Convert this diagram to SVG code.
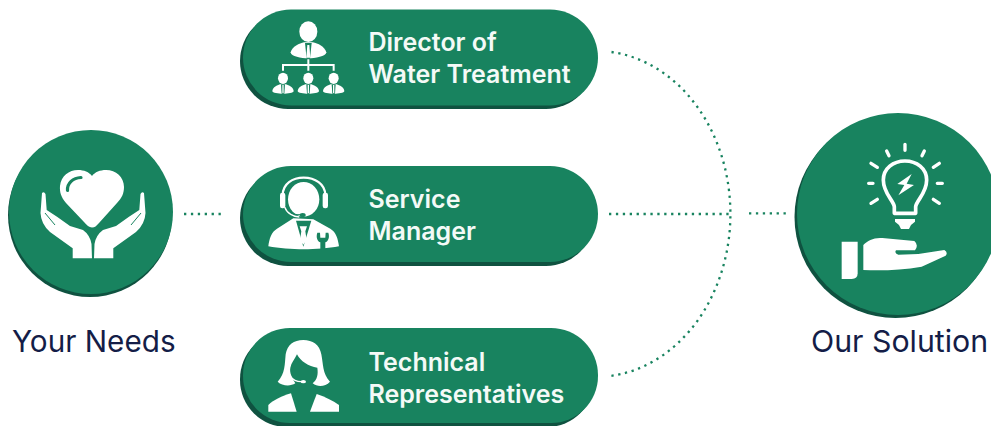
<svg xmlns="http://www.w3.org/2000/svg" width="991" height="426" viewBox="0 0 991 426">
<style>
.g{fill:#18835f}.d{fill:#0f5240}.w{fill:#fff}
.gs{fill:none;stroke:#18835f}
.ws{fill:none;stroke:#fff;stroke-linecap:round}
.dot{fill:none;stroke:#18835f;stroke-width:2.3;stroke-dasharray:2.3 4.6}
.p{font-family:Inter,"Liberation Sans",sans-serif;font-weight:600;font-size:25px;fill:#f4faf7}
.t{font-family:Inter,"Liberation Sans",sans-serif;font-weight:400;font-size:30.300px;fill:#141d47}
</style>
<defs>
<g id="person">
<ellipse cx="0" cy="0" rx="15" ry="17" class="w"/>
<path class="w" d="M-32,38C-30,26 -18,21 -9,18L9,18C18,21 30,26 32,38C32,44 14,46 0,46C-14,46 -32,44 -32,38Z"/>
<path class="g" d="M-6,18L6,18L4,46L-4,46Z"/>
<path class="w" d="M-2,20L2,20L2,44L-2,44Z"/>
</g>
<g id="hand">
<path class="w" d="M42,193Q44,191 45.500,194L46.700,210L57,216.700L70,226L83,230Q90,235 91.500,244L92,258.300L72.700,258.300L72.700,248.300L50,232Q41,224 40.500,213Z"/>
<path class="gs" stroke-width="1" d="M45,213L55,225"/>
</g>
</defs>
<g id="connectors">
<path class="dot" d="M184,214H222"/>
<path class="dot" d="M609,214H730"/>
<path class="dot" d="M749,213.300H788"/>
<path class="dot" d="M611.500,52A134.500,163 0 0 1 610,376"/>
</g>
<g id="your-needs">
<circle cx="90" cy="215" r="82" class="d"/>
<circle cx="91" cy="212" r="82" class="g"/>
<path class="w" d="M92,227.500C89,227.500 87,225 84,222L66,203C61,197 59.500,192 60,186C61,176 69,170 78,170C84,170 89,172 92,176C95,172 100,170 106,170C116,170 124,177 124,187C124,193 122,198 117,203L99,223C96,226 95,227.500 92,227.500Z"/>
<path class="gs" stroke-width="3.200" stroke-linecap="round" d="M67.500,190.500C67,183 73,178 81,177.500"/>
<use href="#hand"/>
<use href="#hand" transform="translate(186 0) scale(-1 1)"/>
<text class="t" x="12" y="352" style="font-size:29.700px">Your Needs</text>
</g>
<g id="director">
<rect x="240" y="13" width="354" height="96" rx="48" class="d"/>
<rect x="243" y="9.500" width="355" height="96" rx="48" class="g"/>
<g transform="translate(268 15) scale(.3333)">
<ellipse cx="121" cy="50" rx="27" ry="31" class="w"/>
<path class="w" d="M68,112C72,95 95,85 108,82L134,82C150,85 170,95 175,112C175,125 140,130 121,130C100,130 68,125 68,112Z"/>
<path class="g" d="M111,84L131,84L126,131L116,131Z"/>
<path class="w" d="M118,90L124,90L127,128L115,128Z"/>
<path fill="none" stroke="#fff" stroke-width="6" d="M45,167V150H197V167M121,133V167"/>
<use href="#person" transform="translate(45 190)"/>
<use href="#person" transform="translate(121 190)"/>
<use href="#person" transform="translate(197 190)"/>
</g>
<text class="p" x="368.500" y="50.500">Director of</text>
<text class="p" x="368.500" y="82.500">Water Treatment</text>
</g>
<g id="service-manager">
<rect x="240" y="170" width="354" height="96" rx="48" class="d"/>
<rect x="243" y="166" width="355" height="96" rx="48" class="g"/>
<g transform="translate(262 172) scale(.3333)">
<ellipse cx="125" cy="82" rx="47" ry="52" class="w"/>
<path fill="none" stroke="#fff" stroke-width="7" d="M62,70C62,35 92,17 125,17C158,17 190,35 190,70"/>
<rect x="54" y="62" width="16" height="47" rx="7" class="w"/>
<rect x="182" y="62" width="16" height="47" rx="7" class="w"/>
<path fill="none" stroke="#fff" stroke-width="4" d="M68,105C75,125 95,134 112,135"/>
<path fill="none" stroke="#18835f" stroke-width="3" d="M80,116C90,126 102,129 114,128"/>
<ellipse cx="122" cy="129" rx="9" ry="6" class="g"/>
<path class="w" d="M19,223C22,200 28,180 45,170L94,139L154,142L205,170C222,180 228,200 231,223C200,229 160,232 125,232C90,232 50,229 19,223Z"/>
<path class="g" d="M102,146L148,146L124,224Z"/>
<path class="w" d="M113,163L135,163L130,178L134,205L124,218L114,205L118,178Z"/>
<path class="g" d="M166,182L174,182L175,197L190,197L191,182L199,182C204,197 198,208 190,211L190,232L175,232L175,211C167,208 161,197 166,182Z"/>
</g>
<text class="p" x="368.500" y="207.500">Service</text>
<text class="p" x="368.500" y="239.500">Manager</text>
</g>
<g id="technical-representatives">
<rect x="240" y="332" width="354" height="95" rx="47" class="d"/>
<rect x="243" y="328" width="355" height="95" rx="47" class="g"/>
<g transform="translate(262 336) scale(.3333)">
<path class="w" d="M124,12C95,12 76,26 71,55C68,85 70,112 47,137C60,150 85,152 100,142C90,125 82,110 85,95C88,80 98,70 105,55C115,75 140,92 166,95C169,115 166,130 152,142C168,155 190,152 204,137C181,112 184,85 178,55C173,26 152,12 124,12Z"/>
<path fill="none" stroke="#fff" stroke-width="4" d="M86,122C92,131 104,137 118,137"/>
<ellipse cx="124" cy="137" rx="8" ry="5" class="w"/>
<path class="w" d="M19,227L19,207C35,192 60,180 87,172L104,227Z"/>
<path class="w" d="M164,174C190,182 212,194 231,207L231,227L144,227Z"/>
</g>
<text class="p" x="368.500" y="370.500">Technical</text>
<text class="p" x="368.500" y="402.500">Representatives</text>
</g>
<g id="our-solution">
<circle cx="895.500" cy="217" r="101" class="d"/>
<circle cx="898" cy="214" r="101" class="g"/>
<g transform="translate(835 135) scale(.3333)">
<path fill="none" stroke="#fff" stroke-width="11" stroke-linejoin="round" d="M178,235L178,215C175,195 145,175 145,135C145,100 175,78 210,78C245,78 275,100 275,135C275,175 245,195 242,215L242,235Z"/>
<path class="w" d="M180,252L240,252L240,260L228,270L222,282L198,282L192,270L180,260Z"/>
<path class="ws" stroke-width="10" d="M210,28V46M155,48L162,62M268,48L261,62M108,85L127,97M313,85L295,97M101,145H114M307,145H322M108,205L127,193M313,205L295,193"/>
<path class="w" d="M230,117L187,147L208,150L190,181L237,150L215,146Z"/>
<path class="w" d="M20,320L68,320L68,415Q68,432 50,432L20,432Z"/>
<path class="w" d="M85,330C100,315 120,305 150,310L238,318Q252,330 240,346L183,346Q177,355 190,359L250,357L328,345Q340,352 332,362L260,395C200,405 140,408 85,405Z"/>
</g>
<text class="t" x="811" y="352">Our Solution</text>
</g>
</svg>
